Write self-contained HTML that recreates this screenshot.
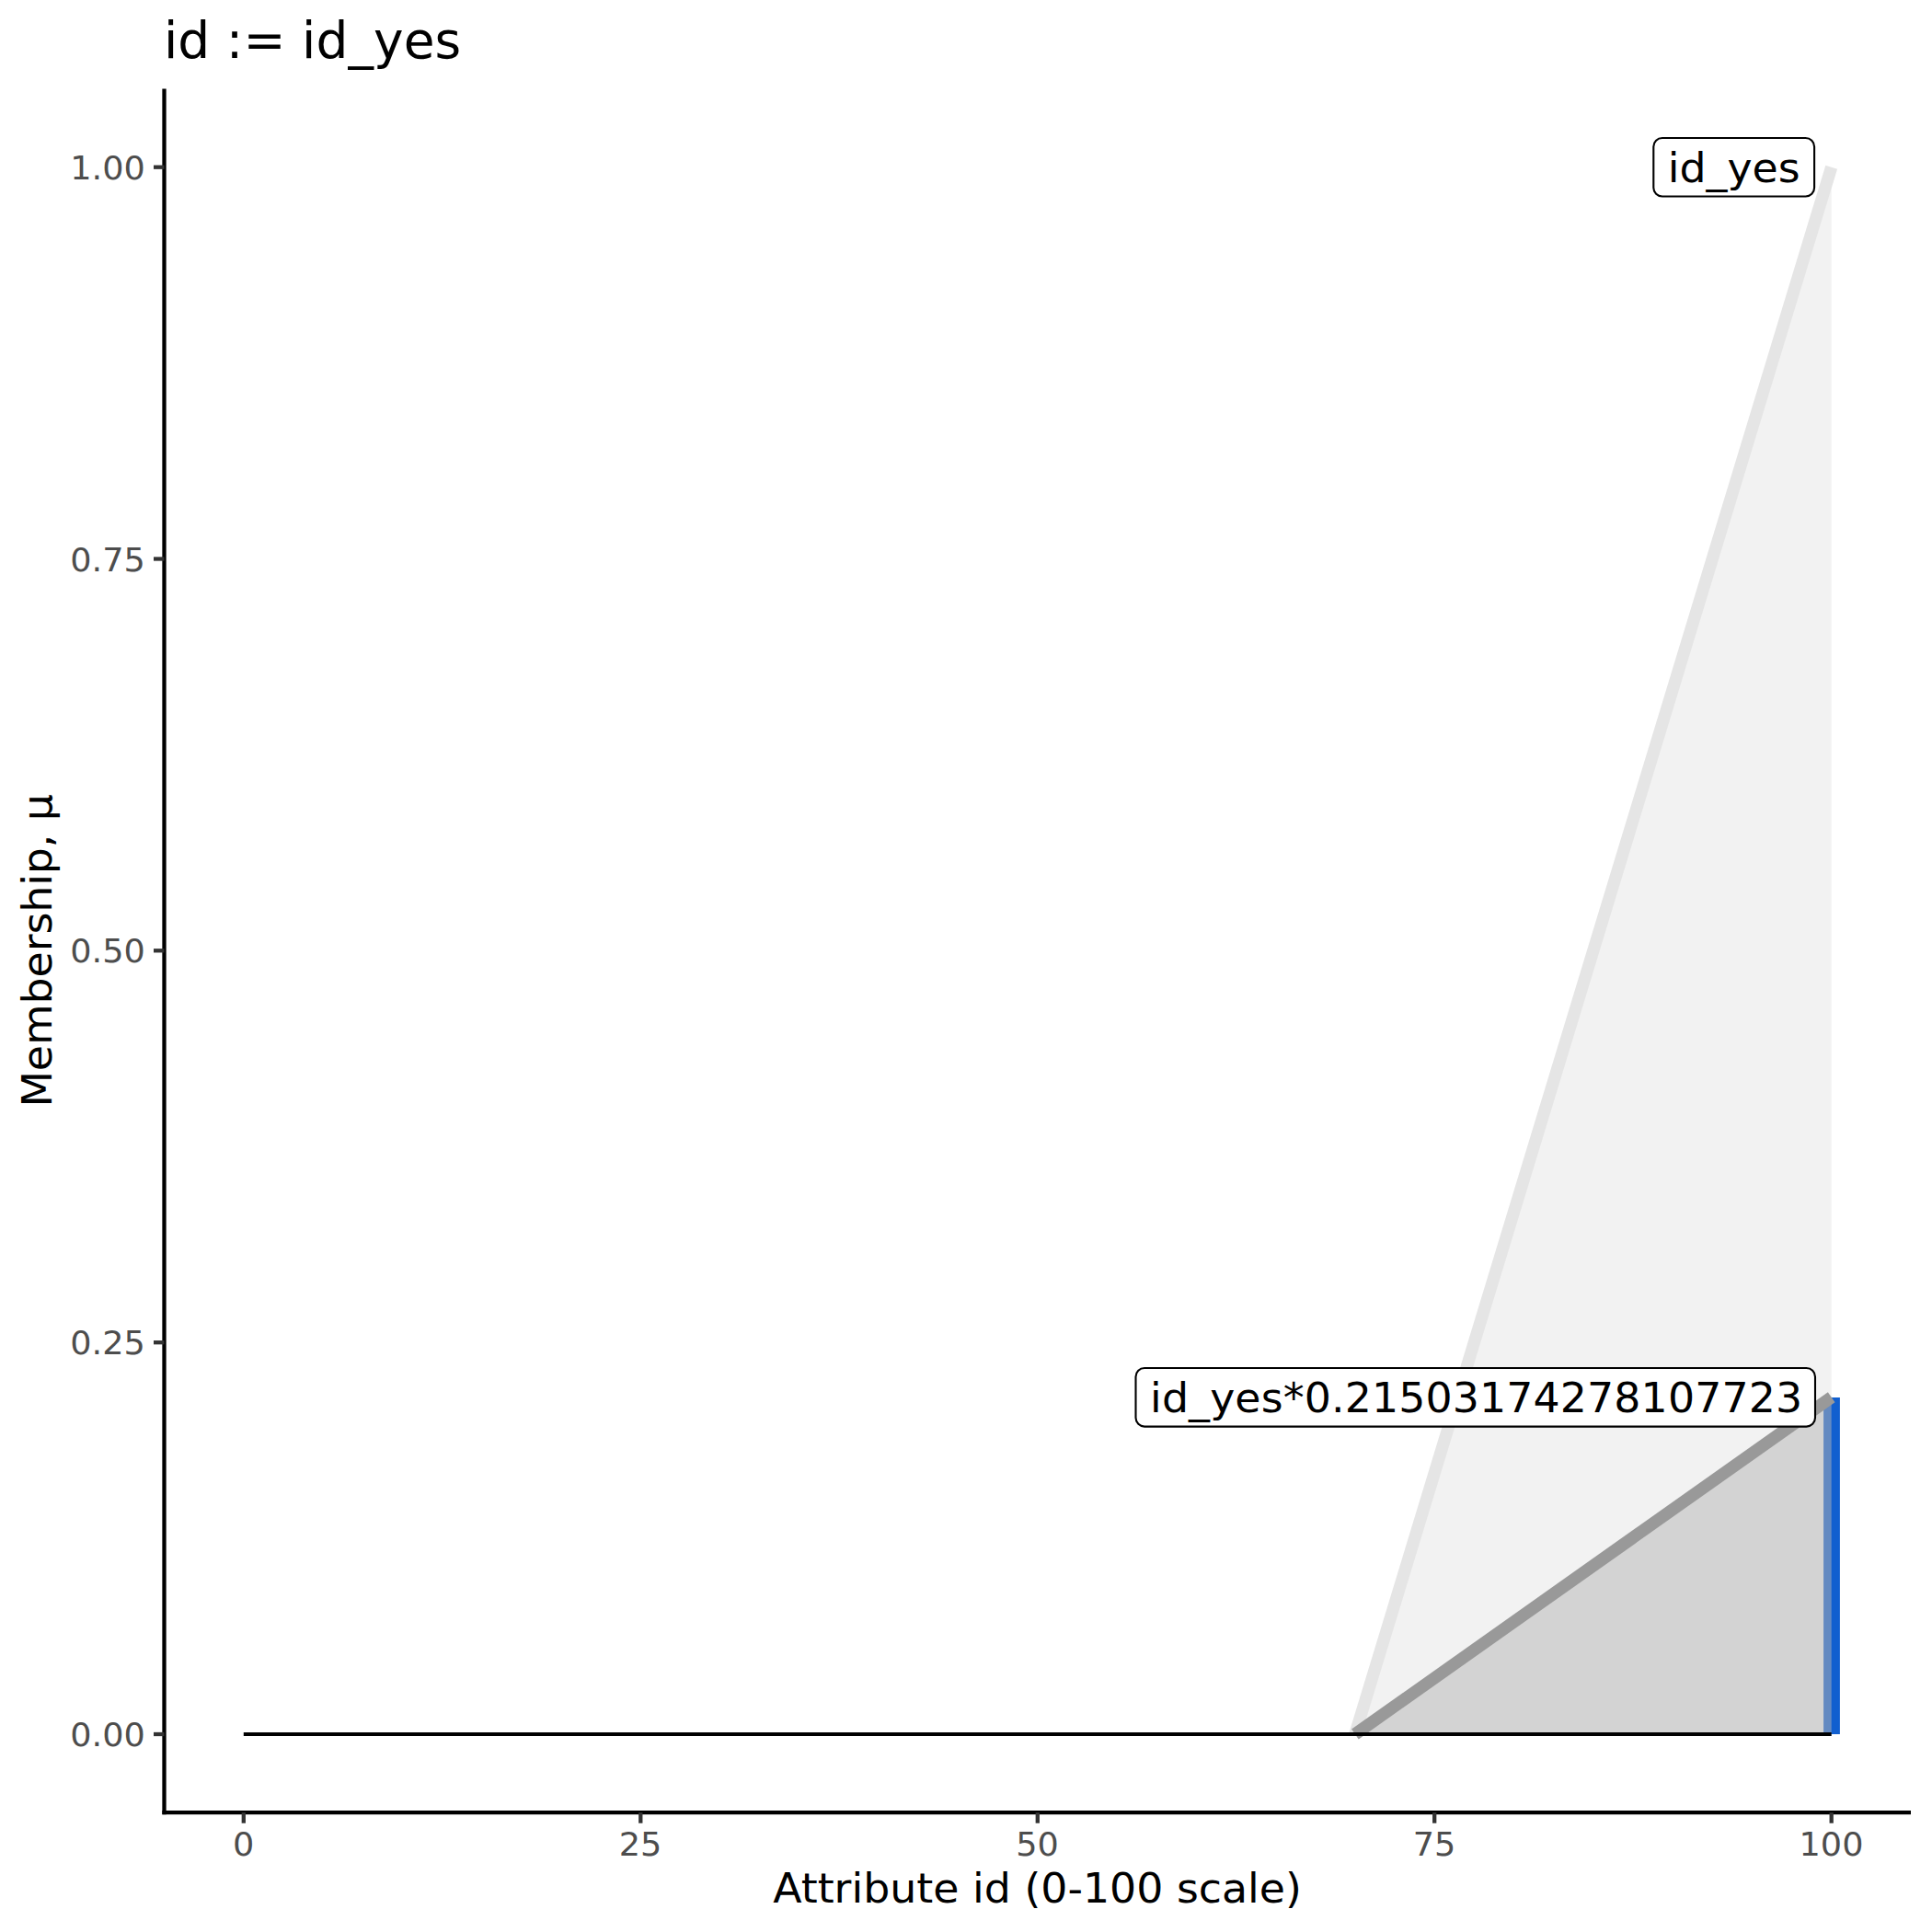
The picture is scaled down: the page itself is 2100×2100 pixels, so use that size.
<!DOCTYPE html>
<html lang="en"><head><meta charset="utf-8"><title>id := id_yes</title>
<style>
html,body{margin:0;padding:0;background:#fff;}
body{width:2100px;height:2100px;overflow:hidden;}
svg{display:block;font-family:"DejaVu Sans","Liberation Sans",sans-serif;}
.ax{fill:#4D4D4D;font-size:36.67px;}
.ttl{fill:#000;font-size:55px;}
.lab{fill:#000;font-size:45.83px;}
</style></head><body>
<svg width="2100" height="2100" viewBox="0 0 2100 2100">
<rect x="0" y="0" width="2100" height="2100" fill="#fff"/>
<polygon points="1472.9,1885.0 1990.7,181.7 1990.7,1885.0" fill="#CCCCCC" fill-opacity="0.25"/>
<line x1="1472.9" y1="1885.0" x2="1990.7" y2="181.7" stroke="#E5E5E5" stroke-width="13.3"/>
<line x1="1991.0" y1="1885.0" x2="1991.0" y2="1519.0" stroke="#115FCF" stroke-width="17.8"/>
<polygon points="1472.9,1885.0 1990.7,1518.7 1990.7,1885.0" fill="#B4B4B4" fill-opacity="0.51"/>
<line x1="1472.9" y1="1885.0" x2="1990.7" y2="1518.7" stroke="#999999" stroke-width="13.3"/>
<line x1="264.8" y1="1885.0" x2="1990.7" y2="1885.0" stroke="#000" stroke-width="4.2"/>
<rect x="1797.3" y="150" width="174.8" height="63.5" rx="9.5" ry="9.5" fill="#fff" stroke="#000" stroke-width="2.1"/>
<text class="lab" transform="translate(1812.8,197.8) scale(1,0.985)">id_yes</text>
<rect x="1234.5" y="1487" width="738.5" height="63.6" rx="9.5" ry="9.5" fill="#fff" stroke="#000" stroke-width="2.1"/>
<text class="lab" textLength="709.05" lengthAdjust="spacing" transform="translate(1250.1,1535.1) scale(1,0.978)">id_yes*0.21503174278107723</text>
<line x1="178.5" y1="96.5" x2="178.5" y2="1972.3" stroke="#000" stroke-width="4.3"/>
<line x1="176.4" y1="1970.2" x2="2077.0" y2="1970.2" stroke="#000" stroke-width="4.3"/>
<line x1="167.0" y1="1885.0" x2="178.5" y2="1885.0" stroke="#333" stroke-width="4.3"/>
<text class="ax" text-anchor="end" transform="translate(157.8,1898.0) scale(1,0.96)">0.00</text>
<line x1="167.0" y1="1459.2" x2="178.5" y2="1459.2" stroke="#333" stroke-width="4.3"/>
<text class="ax" text-anchor="end" transform="translate(157.8,1472.2) scale(1,0.96)">0.25</text>
<line x1="167.0" y1="1033.3" x2="178.5" y2="1033.3" stroke="#333" stroke-width="4.3"/>
<text class="ax" text-anchor="end" transform="translate(157.8,1046.3) scale(1,0.96)">0.50</text>
<line x1="167.0" y1="607.5" x2="178.5" y2="607.5" stroke="#333" stroke-width="4.3"/>
<text class="ax" text-anchor="end" transform="translate(157.8,620.5) scale(1,0.96)">0.75</text>
<line x1="167.0" y1="181.7" x2="178.5" y2="181.7" stroke="#333" stroke-width="4.3"/>
<text class="ax" text-anchor="end" transform="translate(157.8,194.7) scale(1,0.96)">1.00</text>
<line x1="264.8" y1="1970.2" x2="264.8" y2="1981.7" stroke="#333" stroke-width="4.3"/>
<text class="ax" text-anchor="middle" transform="translate(264.6,2016.6) scale(1,0.96)">0</text>
<line x1="696.3" y1="1970.2" x2="696.3" y2="1981.7" stroke="#333" stroke-width="4.3"/>
<text class="ax" text-anchor="middle" transform="translate(696.1,2016.6) scale(1,0.96)">25</text>
<line x1="1127.8" y1="1970.2" x2="1127.8" y2="1981.7" stroke="#333" stroke-width="4.3"/>
<text class="ax" text-anchor="middle" transform="translate(1127.5,2016.6) scale(1,0.96)">50</text>
<line x1="1559.2" y1="1970.2" x2="1559.2" y2="1981.7" stroke="#333" stroke-width="4.3"/>
<text class="ax" text-anchor="middle" transform="translate(1559.0,2016.6) scale(1,0.96)">75</text>
<line x1="1990.7" y1="1970.2" x2="1990.7" y2="1981.7" stroke="#333" stroke-width="4.3"/>
<text class="ax" text-anchor="middle" transform="translate(1990.5,2016.6) scale(1,0.96)">100</text>
<text class="lab" text-anchor="middle" transform="translate(1127.5,2068.4) scale(1,0.985)">Attribute id (0-100 scale)</text>
<text class="lab" text-anchor="middle" textLength="340.65" lengthAdjust="spacing" transform="translate(55.9,1033.3) rotate(-90) scale(1,0.985)">Membership, μ</text>
<text class="ttl" textLength="323.3" lengthAdjust="spacing" x="177.9" y="62.9">id := id_yes</text>
</svg></body></html>
